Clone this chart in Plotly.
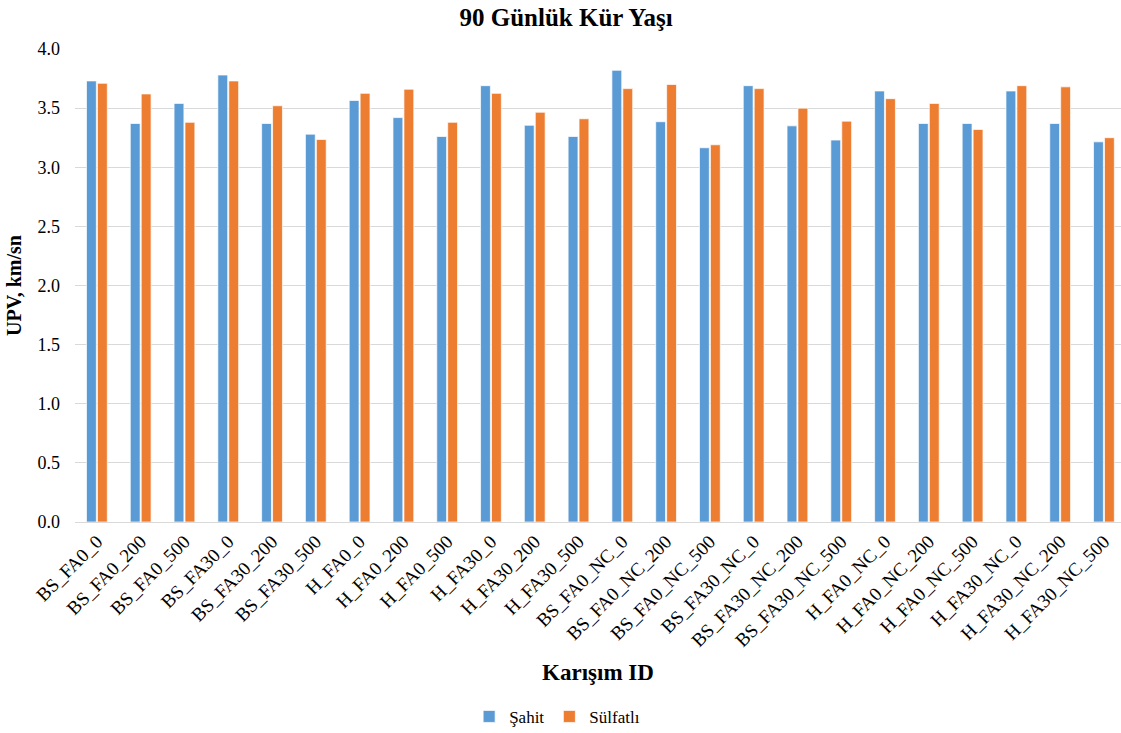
import plotly.graph_objects as go

# Mix IDs along the x axis
mixes = [
    "BS_FA0_0", "BS_FA0_200", "BS_FA0_500", "BS_FA30_0", "BS_FA30_200", "BS_FA30_500",
    "H_FA0_0", "H_FA0_200", "H_FA0_500", "H_FA30_0", "H_FA30_200", "H_FA30_500",
    "BS_FA0_NC_0", "BS_FA0_NC_200", "BS_FA0_NC_500", "BS_FA30_NC_0", "BS_FA30_NC_200",
    "BS_FA30_NC_500", "H_FA0_NC_0", "H_FA0_NC_200", "H_FA0_NC_500", "H_FA30_NC_0",
    "H_FA30_NC_200", "H_FA30_NC_500",
]

# UPV (km/sn) after 90 days of curing
sahit = [3.73, 3.37, 3.54, 3.78, 3.37, 3.28, 3.565, 3.42, 3.26, 3.69, 3.355, 3.26,
         3.82, 3.385, 3.165, 3.69, 3.35, 3.23, 3.645, 3.37, 3.37, 3.645, 3.37, 3.215]
sulfatli = [3.71, 3.62, 3.38, 3.73, 3.52, 3.235, 3.625, 3.66, 3.38, 3.625, 3.465, 3.41,
            3.665, 3.70, 3.19, 3.665, 3.50, 3.39, 3.58, 3.54, 3.32, 3.69, 3.68, 3.25]

y_ticks = [0.0, 0.5, 1.0, 1.5, 2.0, 2.5, 3.0, 3.5, 4.0]

serif = "Liberation Serif"

fig = go.Figure()
fig.add_trace(go.Bar(
    x=mixes, y=sahit, name="Şahit",
    marker=dict(color="#5B9BD5", line=dict(color="rgba(255,255,255,0.7)", width=1)),
))
fig.add_trace(go.Bar(
    x=mixes, y=sulfatli, name="Sülfatlı",
    marker=dict(color="#ED7D31", line=dict(color="rgba(255,255,255,0.7)", width=1)),
))

fig.update_layout(
    width=1121, height=733,
    paper_bgcolor="white", plot_bgcolor="white",
    margin=dict(l=75, r=0, t=49, b=211),
    barmode="group", bargap=0.5, bargroupgap=0.1,
    font=dict(family=serif, size=18, color="#000000"),
    title=dict(text="<b>90 Günlük Kür Yaşı</b>", x=0.505, xanchor="center",
               y=0.977, yanchor="middle", font=dict(family=serif, size=25, color="#000000")),
    legend=dict(orientation="h", xref="container", yref="container",
                x=0.497, xanchor="center", y=0.022, yanchor="middle",
                font=dict(family=serif, size=17), itemwidth=30, tracegroupgap=0),
    xaxis=dict(
        range=[-0.5, 23.39],
        tickangle=-45, tickfont=dict(family=serif, size=19),
        showgrid=False, showline=True, linecolor="#d9d9d9", linewidth=1,
        ticks="", automargin=False,
        title=dict(text="<b>Karışım ID</b>", font=dict(family=serif, size=23), standoff=14),
    ),
    yaxis=dict(
        range=[0, 4.0], tickvals=y_ticks, ticktext=[f"{v:.1f}" for v in y_ticks],
        tickfont=dict(family=serif, size=18), ticklabelstandoff=14,
        showgrid=True, gridcolor="#d9d9d9", gridwidth=1, zeroline=False,
        ticks="", automargin=False,
        title=dict(text="<b>UPV, km/sn</b>", font=dict(family=serif, size=20), standoff=10),
    ),
)

fig.write_html("out.html")
